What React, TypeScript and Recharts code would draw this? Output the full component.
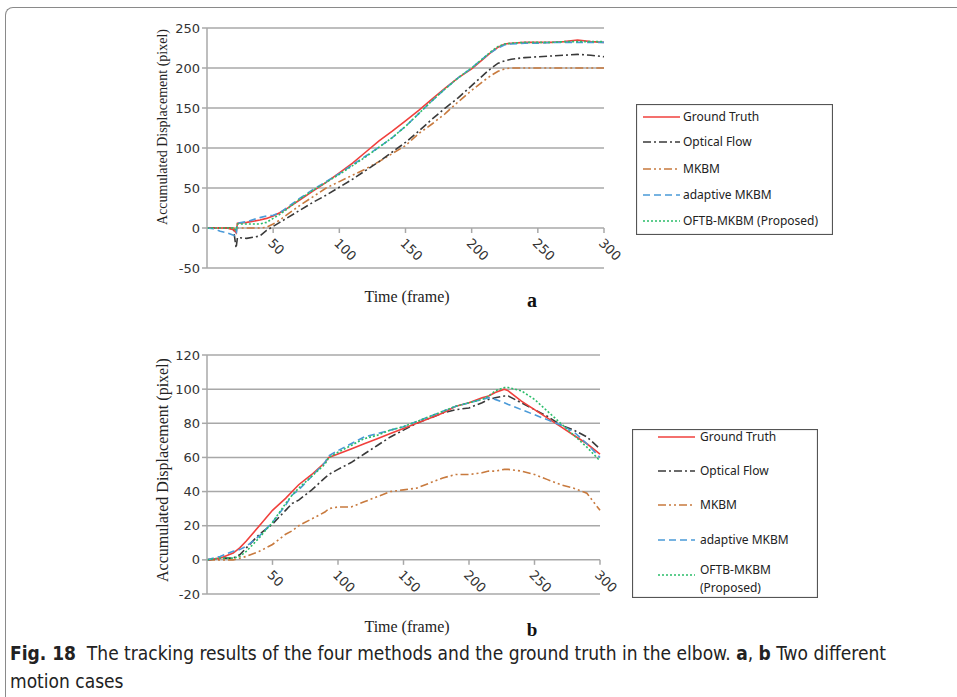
import { LineChart, Line, XAxis, YAxis, CartesianGrid, ReferenceDot } from "recharts";

// ---- panel a ----
const framesA = [0, 5, 10, 15, 20, 22, 23, 30, 40, 45, 50, 55, 60, 70, 80, 90, 100, 110, 120, 130, 140, 150, 160, 170, 180, 190, 200, 210, 215, 220, 225, 230, 240, 250, 260, 270, 280, 290, 300];
const groundTruthA = [0, 0, 0, 0, -2, -6, 6, 7, 10, 12, 15, 19, 24, 35, 46, 57, 69, 81, 95, 109, 121, 134, 147, 161, 175, 188, 199, 213, 220, 226, 230, 231, 232, 232, 232, 233, 235, 233, 232];
const opticalFlowA = [0, 0, 0, 0, -1, -25, -12, -13, -10, -3, 2, 7, 12, 22, 32, 41, 51, 61, 72, 83, 95, 107, 121, 136, 150, 163, 178, 193, 200, 206, 209, 211, 213, 214, 215, 216, 217, 216, 214];
const mkbmA = [0, 0, 0, 0, 0, -3, 0, 0, 0, 1, 5, 10, 16, 28, 39, 50, 58, 66, 74, 83, 93, 103, 118, 130, 143, 158, 172, 185, 191, 196, 199, 200, 200, 200, 200, 200, 200, 200, 200];
const adaptiveA = [0, -1, -4, -6, -9, -10, 6, 8, 13, 15, 16, 19, 25, 37, 48, 58, 68, 79, 90, 101, 113, 127, 143, 159, 174, 188, 200, 214, 220, 225, 229, 230, 231, 231, 232, 232, 232, 232, 232];
const oftbA = [0, 0, 0, 0, 0, -3, 5, 5, 5, 7, 12, 17, 23, 36, 47, 57, 67, 78, 89, 101, 113, 127, 143, 159, 174, 188, 200, 214, 221, 227, 230, 231, 232, 232, 232, 233, 233, 233, 233];

// ---- panel b ----
const framesB = [0, 10, 20, 25, 30, 40, 50, 60, 65, 70, 80, 90, 93, 100, 110, 120, 130, 140, 150, 160, 170, 180, 190, 200, 210, 215, 220, 227, 230, 240, 250, 260, 270, 280, 290, 300];
const groundTruthB = [0, 1, 4, 7, 11, 20, 29, 36, 40, 44, 50, 57, 60, 62, 65, 68, 71, 74, 77, 80, 83, 86, 90, 92, 95, 96, 98, 100, 99, 93, 88, 83, 78, 73, 68, 62];
const opticalFlowB = [0, 1, 1, 3, 7, 15, 21, 29, 33, 35, 41, 48, 50, 53, 57, 62, 67, 72, 76, 80, 83, 86, 88, 89, 92, 94, 95, 96, 96, 92, 88, 84, 79, 76, 72, 65];
const mkbmB = [0, 0, 0, 1, 2, 5, 9, 15, 17, 20, 24, 28, 30, 31, 31, 34, 37, 40, 41, 42, 45, 48, 50, 50, 51, 52, 52, 53, 53, 52, 50, 47, 44, 42, 39, 29];
const adaptiveB = [0, 2, 5, 6, 8, 14, 22, 32, 38, 41, 49, 57, 61, 64, 68, 72, 74, 76, 78, 81, 84, 87, 90, 92, 94, 95, 94, 92, 91, 88, 85, 82, 79, 75, 68, 60];
const oftbB = [0, 1, 1, 2, 5, 13, 22, 33, 38, 42, 49, 56, 60, 63, 67, 71, 73, 76, 78, 81, 84, 87, 90, 92, 94, 96, 99, 101, 101, 99, 94, 87, 80, 73, 66, 58];

const seriesKeys = ["gt", "flow", "mkbm", "adaptive", "oftb"];
const seriesNames = ["Ground Truth", "Optical Flow", "MKBM", "adaptive MKBM", "OFTB-MKBM (Proposed)"];
const xTicks = [50, 100, 150, 200, 250, 300];
const yTicksA = [-50, 0, 50, 100, 150, 200, 250];
const yTicksB = [-20, 0, 20, 40, 60, 80, 100, 120];

const styles: Record<string, { stroke: string; dash?: string }> = {
  gt: { stroke: "#f0403c" },
  flow: { stroke: "#3a3a3a", dash: "8 3 2 3" },
  mkbm: { stroke: "#c87a3e", dash: "8 3 2 3 2 3" },
  adaptive: { stroke: "#4a9ad8", dash: "7 4" },
  oftb: { stroke: "#2bbd6a", dash: "2 2" },
};
const drawOrder = ["mkbm", "flow", "gt", "adaptive", "oftb"];

const GRID = "#a8a8a8";
const TICK_FONT = "'DejaVu Sans', Verdana, sans-serif";
const LEGEND_FONT = "'Noto Sans', 'Open Sans', sans-serif";
const SERIF = "'Liberation Serif', 'DejaVu Serif', serif";

function buildRows(frames: number[], cols: number[][]) {
  return frames.map((f, i) => {
    const row: Record<string, number> = { frame: f };
    seriesKeys.forEach((k, j) => (row[k] = cols[j][i]));
    return row;
  });
}

const dataA = buildRows(framesA, [groundTruthA, opticalFlowA, mkbmA, adaptiveA, oftbA]);
const dataB = buildRows(framesB, [groundTruthB, opticalFlowB, mkbmB, adaptiveB, oftbB]);

function XTick({ cx, cy, label }: { cx: number; cy: number; label: number }) {
  return (
    <g>
      <line x1={cx} y1={cy} x2={cx} y2={cy + 5} stroke={GRID} strokeWidth={1.5} />
      <text
        transform={`translate(${cx - 6},${cy + 16}) rotate(45)`}
        fontSize={13}
        fontFamily={TICK_FONT}
        fill="#333"
      >
        {label}
      </text>
    </g>
  );
}

function Panel({ data, yDomain, yTicks, margin }: any) {
  return (
    <LineChart width={640} height={300} data={data} margin={margin}>
      <CartesianGrid vertical={false} stroke={GRID} strokeWidth={1.5} />
      <XAxis type="number" dataKey="frame" domain={[0, 300]} hide />
      <YAxis
        type="number"
        domain={yDomain}
        ticks={yTicks}
        width={60}
        stroke={GRID}
        strokeWidth={1.5}
        tickSize={5}
        tickMargin={2}
        tick={{ fontSize: 13, fontFamily: TICK_FONT, fill: "#333" }}
      />
      {drawOrder.map((k) => (
        <Line
          key={k}
          dataKey={k}
          type="linear"
          stroke={styles[k].stroke}
          strokeDasharray={styles[k].dash}
          strokeWidth={1.6}
          dot={false}
          isAnimationActive={false}
        />
      ))}
      {xTicks.map((t) => (
        <ReferenceDot
          key={t}
          x={t}
          y={0}
          r={0}
          shape={(p: any) => <XTick cx={p.cx} cy={p.cy} label={t} />}
        />
      ))}
    </LineChart>
  );
}

function LegendBox({ width, height, rows, lineX, textX }: any) {
  return (
    <svg width={width} height={height} style={{ display: "block" }}>
      <rect x={0.5} y={0.5} width={width - 1} height={height - 1} fill="#fff" stroke="#555" strokeWidth={1.2} />
      {seriesKeys.map((k, i) => (
        <g key={k}>
          <line
            x1={lineX}
            x2={lineX + 37}
            y1={rows[i].line}
            y2={rows[i].line}
            stroke={styles[k].stroke}
            strokeDasharray={styles[k].dash}
            strokeWidth={1.6}
          />
          {rows[i].text.map((txt: string, j: number) => (
            <text
              key={j}
              x={textX}
              y={rows[i].line + 4 + j * 18 - (rows[i].text.length - 1) * 5}
              fontSize={12}
              fontFamily={LEGEND_FONT}
              fill="#222"
            >
              {txt}
            </text>
          ))}
        </g>
      ))}
    </svg>
  );
}

const abs = (left: number, top: number, extra: any = {}) => ({ position: "absolute" as const, left, top, ...extra });

export default function App() {
  const rowsA = [13, 38, 65, 91, 117].map((y, i) => ({ line: y, text: [seriesNames[i]] }));
  const rowsB = [8, 42, 76, 111, 146].map((y, i) => ({
    line: y,
    text: i === 4 ? ["OFTB-MKBM", "(Proposed)"] : [seriesNames[i]],
  }));
  const yLabel = "Accumulated  Displacement  (pixel)";
  return (
    <div style={{ position: "absolute", left: 0, top: 0, width: 957, height: 697, overflow: "hidden", background: "#fff" }}>
      <div
        style={abs(5, 7, {
          width: 980,
          height: 720,
          borderTop: "1.5px solid #8a8a8a",
          borderLeft: "1.5px solid #8a8a8a",
          borderTopLeftRadius: 8,
        })}
      />
      <div style={abs(0, 0)}>
        <Panel data={dataA} yDomain={[-50, 250]} yTicks={yTicksA} margin={{ top: 28, right: 36, bottom: 32, left: 147 }} />
      </div>
      <div style={abs(0, 320)}>
        <Panel data={dataB} yDomain={[-20, 120]} yTicks={yTicksB} margin={{ top: 35, right: 40, bottom: 26, left: 147 }} />
      </div>

      <div style={abs(163, 127, { transform: "translate(-50%,-50%) rotate(-90deg)", whiteSpace: "nowrap", fontFamily: SERIF, fontSize: 14, color: "#222" })}>
        {yLabel}
      </div>
      <div style={abs(163, 470, { transform: "translate(-50%,-50%) rotate(-90deg)", whiteSpace: "nowrap", fontFamily: SERIF, fontSize: 16, color: "#222" })}>
        {yLabel}
      </div>

      <div style={abs(407, 297, { transform: "translate(-50%,-50%)", whiteSpace: "nowrap", fontFamily: SERIF, fontSize: 16, color: "#222" })}>
        Time (frame)
      </div>
      <div style={abs(532, 300, { transform: "translate(-50%,-50%)", fontFamily: SERIF, fontSize: 20, fontWeight: "bold", color: "#111" })}>
        a
      </div>
      <div style={abs(407, 627, { transform: "translate(-50%,-50%)", whiteSpace: "nowrap", fontFamily: SERIF, fontSize: 16, color: "#222" })}>
        Time (frame)
      </div>
      <div style={abs(532, 630, { transform: "translate(-50%,-50%)", fontFamily: SERIF, fontSize: 19, fontWeight: "bold", color: "#111", lineHeight: "20px" })}>
        b
      </div>

      <div style={abs(636, 104)}>
        <LegendBox width={197} height={131} rows={rowsA} lineX={7} textX={47} />
      </div>
      <div style={abs(632, 429)}>
        <LegendBox width={186} height={169} rows={rowsB} lineX={26} textX={68} />
      </div>

      <div
        style={abs(10, 639, {
          width: 940,
          fontFamily: "'Liberation Sans Narrow', 'DejaVu Sans Condensed', sans-serif",
          fontSize: 19,
          lineHeight: "28px",
          color: "#222",
        })}
      >
        <b>Fig. 18</b>&nbsp; The tracking results of the four methods and the ground truth in the elbow. <b>a</b>, <b>b</b> Two different
        <br />
        motion cases
      </div>
    </div>
  );
}
